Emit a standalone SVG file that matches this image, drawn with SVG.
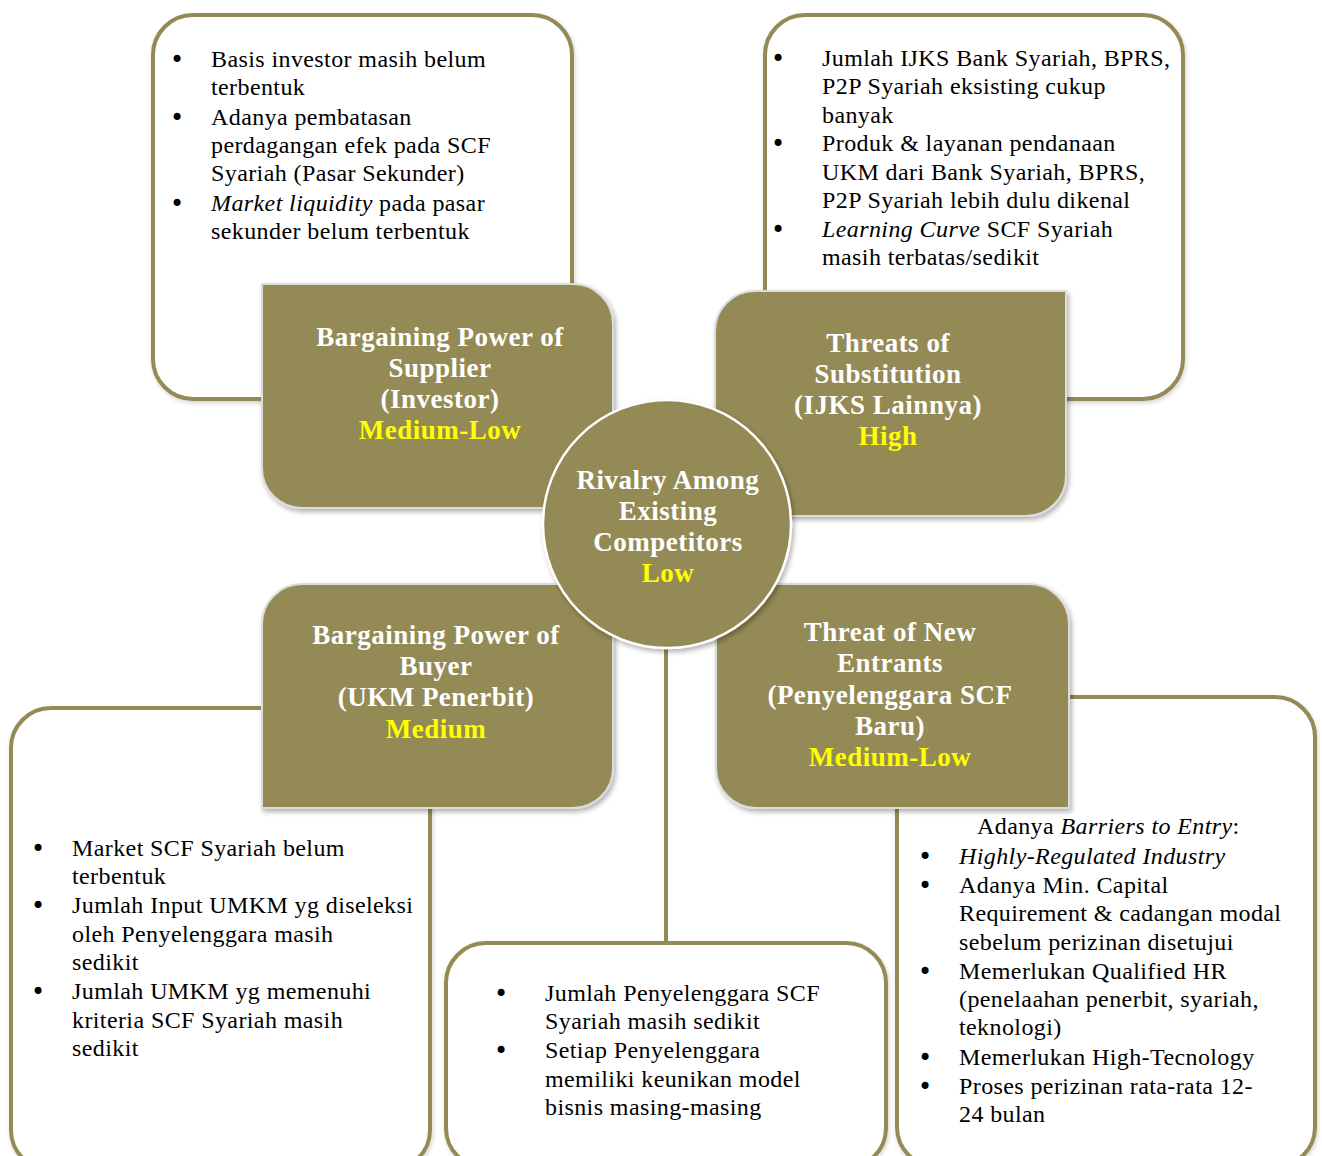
<svg xmlns="http://www.w3.org/2000/svg" width="1322" height="1156" viewBox="0 0 1322 1156">
<defs>
<filter id="sh" x="-10%" y="-10%" width="130%" height="130%">
<feDropShadow dx="2" dy="3" stdDeviation="2.5" flood-color="#000" flood-opacity="0.3"/>
</filter>
<filter id="shl" x="-10%" y="-10%" width="130%" height="130%">
<feDropShadow dx="1" dy="2" stdDeviation="2" flood-color="#000" flood-opacity="0.18"/>
</filter>
</defs>
<style>
.wb{fill:#fff;stroke:#948A54;stroke-width:4;filter:url(#shl)}
.ob{fill:#948A54;stroke:#dcdcdc;stroke-width:2;filter:url(#sh)}
.t{font-family:"Liberation Serif","Times New Roman",serif;font-size:24px;fill:#000;letter-spacing:0.4px}
.b{font-family:"DejaVu Sans",sans-serif;font-size:24px}
.h{font-family:"Liberation Serif","Times New Roman",serif;font-size:27px;font-weight:bold;fill:#fff;text-anchor:middle;letter-spacing:0.5px}
.y{fill:#FFFF00}
.i{font-style:italic}
.conn{stroke:#948A54;stroke-width:4;fill:none}
</style>
<rect width="1322" height="1156" fill="#fff"/>

<g id="box-supplier-detail">
<rect class="wb" x="153" y="15" width="419" height="384" rx="40"/>
<text class="t"><tspan class="b" x="170" y="68">•</tspan><tspan x="211" y="67">Basis investor masih belum</tspan><tspan x="211" y="95">terbentuk</tspan><tspan class="b" x="170" y="126">•</tspan><tspan x="211" y="125">Adanya pembatasan</tspan><tspan x="211" y="153">perdagangan efek pada SCF</tspan><tspan x="211" y="181">Syariah (Pasar Sekunder)</tspan><tspan class="b" x="170" y="212">•</tspan><tspan x="211" y="211" class="i">Market liquidity</tspan><tspan> pada pasar</tspan><tspan x="211" y="239">sekunder belum terbentuk</tspan></text>
</g>

<g id="box-substitution-detail">
<rect class="wb" x="765" y="15" width="418" height="384" rx="40"/>
<text class="t"><tspan class="b" x="771" y="67">•</tspan><tspan x="822" y="66">Jumlah IJKS Bank Syariah, BPRS,</tspan><tspan x="822" y="94">P2P Syariah eksisting cukup</tspan><tspan x="822" y="123">banyak</tspan><tspan class="b" x="771" y="152">•</tspan><tspan x="822" y="151">Produk &amp; layanan pendanaan</tspan><tspan x="822" y="180">UKM dari Bank Syariah, BPRS,</tspan><tspan x="822" y="208">P2P Syariah lebih dulu dikenal</tspan><tspan class="b" x="771" y="238">•</tspan><tspan x="822" y="237" class="i">Learning Curve</tspan><tspan> SCF Syariah</tspan><tspan x="822" y="265">masih terbatas/sedikit</tspan></text>
</g>

<g id="box-buyer-detail">
<rect class="wb" x="11" y="708" width="419" height="462" rx="40"/>
<text class="t"><tspan class="b" x="31" y="857">•</tspan><tspan x="72" y="856">Market SCF Syariah belum</tspan><tspan x="72" y="884">terbentuk</tspan><tspan class="b" x="31" y="914">•</tspan><tspan x="72" y="913">Jumlah Input UMKM yg diseleksi</tspan><tspan x="72" y="942">oleh Penyelenggara masih</tspan><tspan x="72" y="970">sedikit</tspan><tspan class="b" x="31" y="1000">•</tspan><tspan x="72" y="999">Jumlah UMKM yg memenuhi</tspan><tspan x="72" y="1028">kriteria SCF Syariah masih</tspan><tspan x="72" y="1056">sedikit</tspan></text>
</g>

<g id="box-rivalry-detail">
<rect class="wb" x="446" y="943" width="440" height="225" rx="40"/>
<text class="t"><tspan class="b" x="494" y="1002">•</tspan><tspan x="545" y="1001">Jumlah Penyelenggara SCF</tspan><tspan x="545" y="1029">Syariah masih sedikit</tspan><tspan class="b" x="494" y="1059">•</tspan><tspan x="545" y="1058">Setiap Penyelenggara</tspan><tspan x="545" y="1087">memiliki keunikan model</tspan><tspan x="545" y="1115">bisnis masing-masing</tspan></text>
</g>

<g id="box-entrants-detail">
<rect class="wb" x="897" y="697" width="418" height="470" rx="40"/>
<text class="t"><tspan x="977" y="834">Adanya </tspan><tspan class="i">Barriers to Entry</tspan><tspan>:</tspan><tspan class="b" x="918" y="865">•</tspan><tspan x="959" y="864" class="i">Highly-Regulated Industry</tspan><tspan class="b" x="918" y="894">•</tspan><tspan x="959" y="893">Adanya Min. Capital</tspan><tspan x="959" y="921">Requirement &amp; cadangan modal</tspan><tspan x="959" y="950">sebelum perizinan disetujui</tspan><tspan class="b" x="918" y="980">•</tspan><tspan x="959" y="979">Memerlukan Qualified HR</tspan><tspan x="959" y="1007">(penelaahan penerbit, syariah,</tspan><tspan x="959" y="1035">teknologi)</tspan><tspan class="b" x="918" y="1066">•</tspan><tspan x="959" y="1065">Memerlukan High-Tecnology</tspan><tspan class="b" x="918" y="1095">•</tspan><tspan x="959" y="1094">Proses perizinan rata-rata 12-</tspan><tspan x="959" y="1122">24 bulan</tspan></text>
</g>

<g id="connectors">
<line class="conn" x1="666" y1="640" x2="666" y2="944"/>
</g>

<g id="node-supplier">
<path class="ob" d="M262,284 H573 A40,40 0 0 1 613,324 V508 H302 A40,40 0 0 1 262,468 Z"/>
<text class="h"><tspan x="440" y="346">Bargaining Power of</tspan><tspan x="440" y="377">Supplier</tspan><tspan x="440" y="408">(Investor)</tspan><tspan x="440" y="439" class="y">Medium-Low</tspan></text>
</g>

<g id="node-substitution">
<path class="ob" d="M755,291 H1066 V476 A40,40 0 0 1 1026,516 H715 V331 A40,40 0 0 1 755,291 Z"/>
<text class="h"><tspan x="888" y="352">Threats of</tspan><tspan x="888" y="383">Substitution</tspan><tspan x="888" y="414">(IJKS Lainnya)</tspan><tspan x="888" y="445" class="y">High</tspan></text>
</g>

<g id="node-buyer">
<path class="ob" d="M302,584 H613 V768 A40,40 0 0 1 573,808 H262 V624 A40,40 0 0 1 302,584 Z"/>
<text class="h"><tspan x="436" y="644">Bargaining Power of</tspan><tspan x="436" y="675">Buyer</tspan><tspan x="436" y="706">(UKM Penerbit)</tspan><tspan x="436" y="738" class="y">Medium</tspan></text>
</g>

<g id="node-entrants">
<path class="ob" d="M716,584 H1029 A40,40 0 0 1 1069,624 V808 H756 A40,40 0 0 1 716,768 Z"/>
<text class="h"><tspan x="890" y="641">Threat of New</tspan><tspan x="890" y="672">Entrants</tspan><tspan x="890" y="704">(Penyelenggara SCF</tspan><tspan x="890" y="735">Baru)</tspan><tspan x="890" y="766" class="y">Medium-Low</tspan></text>
</g>

<g id="node-rivalry">
<circle cx="667" cy="524" r="124" fill="#948A54" stroke="#fff" stroke-width="2.5" filter="url(#sh)"/>
<text class="h"><tspan x="668" y="489">Rivalry Among</tspan><tspan x="668" y="520">Existing</tspan><tspan x="668" y="551">Competitors</tspan><tspan x="668" y="582" class="y">Low</tspan></text>
</g>
</svg>
